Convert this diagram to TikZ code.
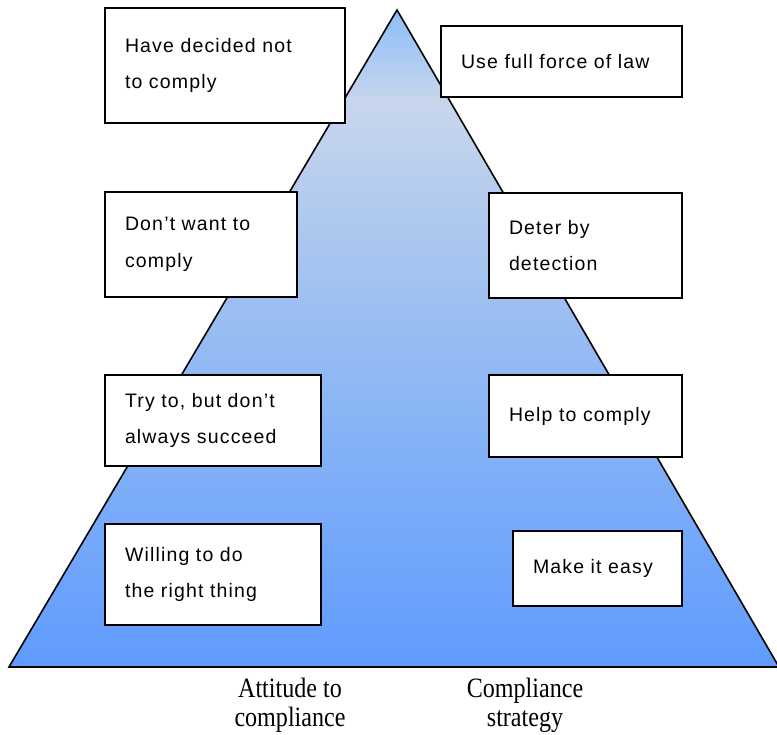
\documentclass[tikz,border=0pt]{standalone}
\usepackage{fontspec}
\setmainfont{Liberation Serif}[FakeStretch=0.86]
\setsansfont{Liberation Sans}[LetterSpace=6]
\definecolor{pyrbottom}{RGB}{95,155,255}
\definecolor{pyrmid}{RGB}{150,188,242}
\definecolor{pyrpale}{RGB}{200,214,236}
\definecolor{pyrtop}{RGB}{140,190,250}
\pgfdeclareverticalshading{pyramidfill}{100bp}{%
  color(0bp)=(pyrbottom); color(25bp)=(pyrbottom); color(50bp)=(pyrmid);
  color(68bp)=(pyrpale); color(75bp)=(pyrtop); color(100bp)=(pyrtop)}
\tikzset{
  notebox/.style={draw, line width=1.3pt, fill=white, inner xsep=20pt, inner ysep=0pt,
    align=left, font=\sffamily\fontsize{19.5}{36.5}\selectfont},
  caption/.style={align=center, inner sep=0pt, font=\rmfamily\fontsize{28}{29}\selectfont}
}
\begin{document}
\begin{tikzpicture}[x=1pt,y=-1pt]
  \useasboundingbox (0,0) rectangle (777,735);
  % pyramid
  \coordinate (apex) at (397,10);
  \coordinate (baseL) at (9,667);
  \coordinate (baseR) at (779,667);
  \path[shading=pyramidfill] (apex) -- (baseL) -- (baseR) -- cycle;
  \draw[line width=1.6pt, line join=miter] (baseR) -- (apex) -- (baseL) -- (baseR);
  % attitudes
  \node[notebox, text width=200pt, minimum height=115pt] (decided) at (225,65.5)
    {Have decided not\\to comply};
  \node[notebox, text width=152pt, minimum height=105pt] (dontwant) at (201,244.5)
    {Don’t want to\\comply};
  \node[notebox, text width=176pt, minimum height=91pt] (tryto) at (213,420.5)
    {Try to, but don’t\\always succeed};
  \node[notebox, text width=176pt, minimum height=101pt] (willing) at (213,574.5)
    {Willing to do\\the right thing};
  % strategies
  \node[notebox, text width=201pt, minimum height=71pt] (fullforce) at (561.5,61.5)
    {Use full force of law};
  \node[notebox, text width=153pt, minimum height=105pt] (deter) at (585.5,245.5)
    {Deter by\\detection};
  \node[notebox, text width=153pt, minimum height=82pt] (help) at (585.5,416)
    {Help to comply};
  \node[notebox, text width=129pt, minimum height=75pt] (easy) at (597.5,568.5)
    {Make it easy};
  % captions
  \node[caption, anchor=south] (attitude) at (290,733) {Attitude to\\compliance};
  \node[caption, anchor=south] (strategy) at (525,733) {Compliance\\strategy};
\end{tikzpicture}
\end{document}
